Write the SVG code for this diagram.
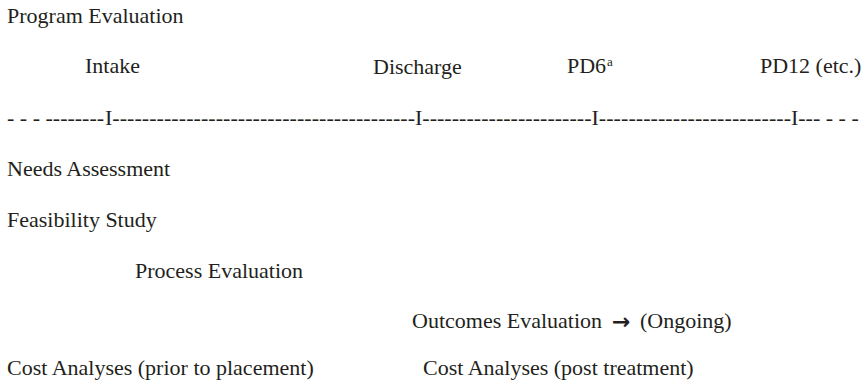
<svg xmlns="http://www.w3.org/2000/svg" width="866" height="387" viewBox="0 0 866 387">
<style>
text{font-family:"Liberation Serif","Times New Roman","DejaVu Serif",serif;font-size:22px;fill:#231f20}
.sup{font-size:13px}
.arr{font-family:"DejaVu Sans",sans-serif;font-weight:bold;font-size:22px}
</style>
<rect width="866" height="387" fill="#ffffff"/>
<g id="title"><text x="7" y="23">Program Evaluation</text></g>
<g id="intake"><text x="85" y="73">Intake</text></g>
<g id="discharge"><text x="373" y="74">Discharge</text></g>
<g id="pd6"><text x="567" y="73">PD6</text><text class="sup" x="607" y="66">a</text></g>
<g id="pd12"><text x="760" y="73">PD12 (etc.)</text></g>
<g id="timeline">
<text y="125"><tspan x="7">- - - --------</tspan><tspan x="105">I</tspan><tspan x="112.3" textLength="302.7" lengthAdjust="spacing">-----------------------------------------</tspan><tspan x="415">I</tspan><tspan x="422.3" textLength="169.2" lengthAdjust="spacing">-----------------------</tspan><tspan x="591.5">I</tspan><tspan x="598.8" textLength="192.2" lengthAdjust="spacing">--------------------------</tspan><tspan x="791">I</tspan><tspan x="798.3">--- - - -</tspan></text>
</g>
<g id="needs"><text x="7" y="176">Needs Assessment</text></g>
<g id="feasibility"><text x="7" y="227">Feasibility Study</text></g>
<g id="process"><text x="135" y="278">Process Evaluation</text></g>
<g id="outcomes"><text x="412" y="328">Outcomes Evaluation</text><text class="arr" x="612" y="329">→</text><text x="640" y="328">(Ongoing)</text></g>
<g id="cost-prior"><text x="7" y="375">Cost Analyses (prior to placement)</text></g>
<g id="cost-post"><text x="423" y="375">Cost Analyses (post treatment)</text></g>
<g id="connectors"></g>
</svg>
